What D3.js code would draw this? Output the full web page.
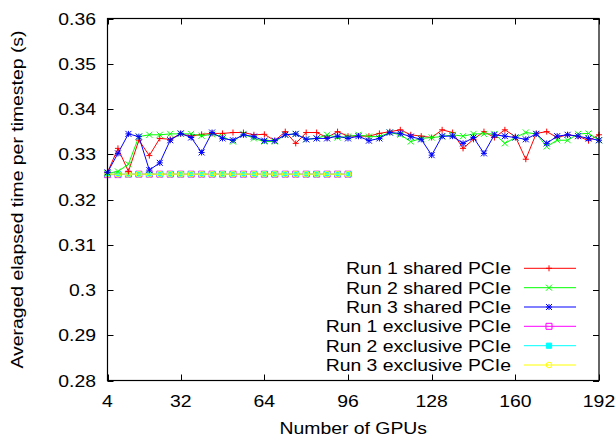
<!DOCTYPE html>
<html>
<head>
<meta charset="utf-8">
<script src="https://cdn.jsdelivr.net/npm/d3@7"></script>
<style>
  body { margin: 0; background: #fff; }
  text { font-family: "Liberation Sans", Arial, Helvetica, sans-serif; fill: #000; }
</style>
</head>
<body>
<div id="chart"></div>
<script>
// number of GPUs
const gpus = [4, 8, 12, 16, 20, 24, 28, 32, 36, 40, 44, 48, 52, 56, 60, 64, 68, 72, 76, 80, 84, 88, 92, 96,
  100, 104, 108, 112, 116, 120, 124, 128, 132, 136, 140, 144, 148, 152, 156, 160, 164, 168, 172, 176, 180, 184, 188, 192];
const gpusExclusive = [4, 8, 12, 16, 20, 24, 28, 32, 36, 40, 44, 48, 52, 56, 60, 64, 68, 72, 76, 80, 84, 88, 92, 96];

const run1Shared = [0.3260, 0.3313, 0.3262, 0.3331, 0.3297, 0.3335, 0.3333, 0.3345, 0.3340, 0.3344, 0.3346, 0.3346,
  0.3348, 0.3348, 0.3343, 0.3344, 0.3330, 0.3350, 0.3324, 0.3348, 0.3348, 0.3337, 0.3350, 0.3340,
  0.3340, 0.3340, 0.3346, 0.3350, 0.3354, 0.3343, 0.3340, 0.3337, 0.3354, 0.3348, 0.3313, 0.3333,
  0.3350, 0.3337, 0.3354, 0.3339, 0.3289, 0.3346, 0.3350, 0.3337, 0.3343, 0.3340, 0.3330, 0.3343];
const run2Shared = [0.3258, 0.3262, 0.3278, 0.3339, 0.3343, 0.3343, 0.3345, 0.3345, 0.3345, 0.3341, 0.3344, 0.3339,
  0.3328, 0.3345, 0.3335, 0.3328, 0.3328, 0.3343, 0.3345, 0.3333, 0.3335, 0.3343, 0.3337, 0.3339,
  0.3343, 0.3339, 0.3339, 0.3348, 0.3343, 0.3328, 0.3335, 0.3337, 0.3339, 0.3343, 0.3340, 0.3345,
  0.3345, 0.3345, 0.3324, 0.3337, 0.3348, 0.3345, 0.3317, 0.3331, 0.3331, 0.3345, 0.3346, 0.3331];
const run3Shared = [0.3260, 0.3302, 0.3345, 0.3339, 0.3265, 0.3281, 0.3331, 0.3346, 0.3337, 0.3304, 0.3348, 0.3335,
  0.3331, 0.3343, 0.3339, 0.3330, 0.3330, 0.3343, 0.3345, 0.3333, 0.3335, 0.3335, 0.3340, 0.3335,
  0.3340, 0.3330, 0.3335, 0.3348, 0.3346, 0.3339, 0.3333, 0.3298, 0.3340, 0.3340, 0.3324, 0.3337,
  0.3302, 0.3343, 0.3340, 0.3337, 0.3333, 0.3345, 0.3324, 0.3340, 0.3343, 0.3340, 0.3335, 0.3331];
const run1Exclusive = [0.3255, 0.3255, 0.3256, 0.3256, 0.3256, 0.3256, 0.3256, 0.3256, 0.3256, 0.3256, 0.3256, 0.3256,
  0.3256, 0.3256, 0.3256, 0.3256, 0.3256, 0.3256, 0.3256, 0.3256, 0.3256, 0.3256, 0.3256, 0.3256];
const run2Exclusive = [0.3256, 0.3256, 0.3256, 0.3256, 0.3256, 0.3256, 0.3256, 0.3256, 0.3256, 0.3256, 0.3256, 0.3256,
  0.3256, 0.3256, 0.3256, 0.3256, 0.3256, 0.3256, 0.3256, 0.3256, 0.3256, 0.3256, 0.3256, 0.3256];
const run3Exclusive = [0.3256, 0.3256, 0.3256, 0.3256, 0.3256, 0.3256, 0.3256, 0.3256, 0.3256, 0.3256, 0.3256, 0.3256,
  0.3256, 0.3256, 0.3256, 0.3256, 0.3256, 0.3256, 0.3256, 0.3256, 0.3256, 0.3256, 0.3256, 0.3256];

const xTicks = [4, 32, 64, 96, 128, 160, 192];
const yTicks = [0.28, 0.29, 0.3, 0.31, 0.32, 0.33, 0.34, 0.35, 0.36];
const yTickLabels = ["0.28", "0.29", "0.3", "0.31", "0.32", "0.33", "0.34", "0.35", "0.36"];

const seriesNames = ["Run 1 shared PCIe", "Run 2 shared PCIe", "Run 3 shared PCIe",
  "Run 1 exclusive PCIe", "Run 2 exclusive PCIe", "Run 3 exclusive PCIe"];
const seriesColors = ["#ff0000", "#00ff00", "#0000ff", "#ff00ff", "#00ffff", "#ffff00"];
const seriesSymbols = ["plus", "cross", "star", "square", "squareFilled", "circle"];

const series = [
  {x: gpus, y: run1Shared},
  {x: gpus, y: run2Shared},
  {x: gpus, y: run3Shared},
  {x: gpusExclusive, y: run1Exclusive},
  {x: gpusExclusive, y: run2Exclusive},
  {x: gpusExclusive, y: run3Exclusive}
].map((s, i) => ({
  name: seriesNames[i], color: seriesColors[i], symbol: seriesSymbols[i],
  values: s.x.map((g, j) => ({gpus: g, value: s.y[j]}))
}));

// set the dimensions of the graph
const width = 616, height = 438;
const plot = {left: 107.5, right: 599, top: 18.5, bottom: 380.5};
const fontSize = 16.3, stretch = 1.19;

const svg = d3.select("#chart")
  .append("svg")
    .attr("width", width)
    .attr("height", height);

const x = d3.scaleLinear().domain([4, 192]).range([plot.left, plot.right]);
const y = d3.scaleLinear().domain([0.28, 0.36]).range([plot.bottom, plot.top]);

// gnuplot style point symbols
function symbolPath(type, s) {
  switch (type) {
    case "plus": return `M${-s},0H${s}M0,${-s}V${s}`;
    case "cross": return `M${-s},${-s}L${s},${s}M${-s},${s}L${s},${-s}`;
    case "star": return `M${-s},0H${s}M0,${-s}V${s}M${-s},${-s}L${s},${s}M${-s},${s}L${s},${-s}`;
    case "square":
    case "squareFilled": return `M${-s},${-s}H${s}V${s}H${-s}Z`;
    case "circle": return d3.symbol(d3.symbolCircle, Math.PI * s * s)();
  }
}
const symbolSize = {plus: 3, cross: 3, star: 3, square: 3, squareFilled: 2.6, circle: 2.8};

// ticks, mirrored like gnuplot
const tickLen = 6;
const ticks = svg.append("g").attr("stroke", "#000").attr("stroke-width", 1);
xTicks.forEach(t => {
  const px = Math.round(x(t)) + 0.5;
  ticks.append("line").attr("x1", px).attr("x2", px).attr("y1", plot.bottom).attr("y2", plot.bottom - tickLen);
  ticks.append("line").attr("x1", px).attr("x2", px).attr("y1", plot.top).attr("y2", plot.top + tickLen);
});
yTicks.forEach(t => {
  const py = Math.round(y(t)) + 0.5;
  ticks.append("line").attr("x1", plot.left).attr("x2", plot.left + tickLen).attr("y1", py).attr("y2", py);
  ticks.append("line").attr("x1", plot.right).attr("x2", plot.right - tickLen).attr("y1", py).attr("y2", py);
});

// tick labels
function stretchedText(px, py, str, anchor) {
  return svg.append("text")
    .attr("transform", `translate(${px},${py}) scale(${stretch},1)`)
    .attr("text-anchor", anchor)
    .style("font-size", fontSize + "px")
    .text(str);
}
xTicks.forEach(t => stretchedText(x(t), 406.5, String(t), "middle"));
yTicks.forEach((t, i) => stretchedText(96, y(t) + 6, yTickLabels[i], "end"));

// axis titles
stretchedText((plot.left + plot.right) / 2, 434, "Number of GPUs", "middle");
svg.append("text")
  .attr("transform", `translate(23,${(plot.top + plot.bottom) / 2}) rotate(-90) scale(${stretch},1)`)
  .attr("text-anchor", "middle")
  .style("font-size", fontSize + "px")
  .text("Averaged elapsed time per timestep (s)");

// lines + points, exclusive runs first, shared on top
const line = d3.line().x(d => x(d.gpus)).y(d => y(d.value));
const drawOrder = [3, 4, 5, 0, 1, 2];
drawOrder.forEach(i => {
  const s = series[i];
  svg.append("path")
    .attr("d", line(s.values))
    .attr("fill", "none")
    .attr("stroke", s.color)
    .attr("stroke-width", 1);
  svg.append("g")
    .selectAll("path")
    .data(s.values)
    .join("path")
      .attr("transform", d => `translate(${x(d.gpus)},${y(d.value)})`)
      .attr("d", symbolPath(s.symbol, symbolSize[s.symbol]))
      .attr("fill", s.symbol === "squareFilled" ? s.color : "none")
      .attr("stroke", s.color)
      .attr("stroke-width", 1);
});

// legend
const legendY = [268.3, 287.7, 307, 326.3, 345.7, 365];
series.forEach((s, i) => {
  const ly = legendY[i];
  stretchedText(511, ly + 6, s.name, "end");
  svg.append("line")
    .attr("x1", 524).attr("x2", 576).attr("y1", ly).attr("y2", ly)
    .attr("stroke", s.color).attr("stroke-width", 1);
  svg.append("path")
    .attr("transform", `translate(549,${ly})`)
    .attr("d", symbolPath(s.symbol, symbolSize[s.symbol]))
    .attr("fill", s.symbol === "squareFilled" ? s.color : "none")
    .attr("stroke", s.color)
    .attr("stroke-width", 1);
});

// border
svg.append("rect")
  .attr("x", plot.left).attr("y", plot.top)
  .attr("width", plot.right - plot.left).attr("height", plot.bottom - plot.top)
  .attr("fill", "none").attr("stroke", "#000").attr("stroke-width", 1.2);
</script>
</body>
</html>
